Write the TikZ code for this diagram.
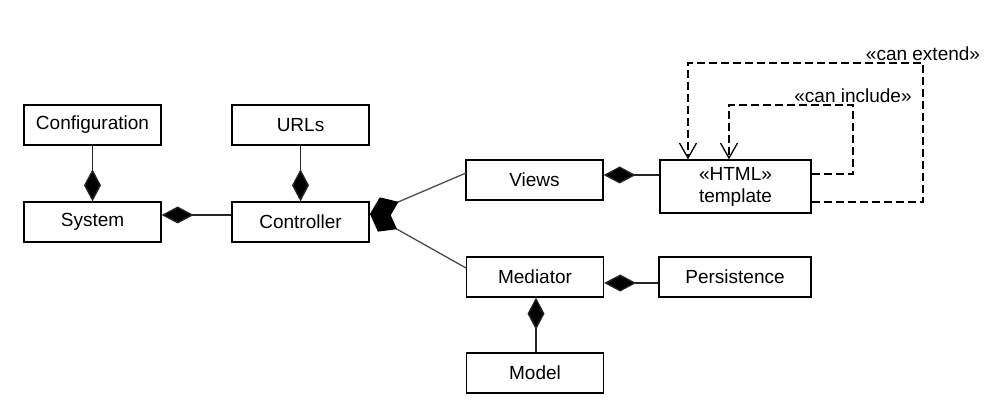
\documentclass[tikz,border=0pt]{standalone}
\usepackage{fontspec}
\setmainfont{Liberation Sans}
\usetikzlibrary{arrows.meta}
\begin{document}
\begin{tikzpicture}[x=1pt,y=-1pt,
  cls/.style={draw=black, line width=1.3pt, minimum height=40pt, inner sep=0pt,
    font=\fontsize{19}{22}\selectfont},
  comp/.style={draw=black!85, line width=1.3pt, -{Diamond[length=32pt,width=17pt,fill=black]}},
  bigcomp/.style={draw=black!70, line width=1.3pt, -{Diamond[length=31pt,width=23pt,fill=black,color=black]}},
  dep/.style={draw=black, line width=1.3pt, dash pattern=on 8pt off 4pt,
    -{Straight Barb[length=15pt,width=17pt]}},
  lbl/.style={font=\fontsize{19}{22}\selectfont, inner sep=0pt}]
\useasboundingbox (0,0) rectangle (1008,419);
\node[cls, minimum width=137pt] (config) at (92.5,125) {Configuration};
\node[cls, minimum width=137pt] (system) at (92.5,222) {System};
\node[cls, minimum width=137pt] (urls) at (300.5,125) {URLs};
\node[cls, minimum width=137pt] (ctrl) at (300.5,222) {Controller};
\node[cls, minimum width=137pt] (views) at (534.5,180) {Views};
\node[cls, minimum width=137pt] (med) at (535,277) {Mediator};
\node[cls, minimum width=137pt] (model) at (535,373) {Model};
\node[cls, minimum width=151pt, minimum height=53pt, align=center] (tmpl) at (735.5,186.5) {«HTML»\\template};
\node[cls, minimum width=152pt] (pers) at (735,277) {Persistence};
% anchor coordinates
\coordinate (ctip) at (370,214);
\coordinate (vl) at (466,173);
\coordinate (ml) at (466,268);
% compositions
\draw[comp] (config.south) -- (system.north);
\draw[comp] (urls.south) -- (ctrl.north);
\draw[comp] (ctrl.west |- 0,215) -- (system.east |- 0,215);
\draw[bigcomp] (vl) -- (ctip);
\draw[bigcomp] (ml) -- (ctip);
\draw[comp] (tmpl.west |- 0,175) -- (views.east |- 0,175);
\draw[comp] (pers.west |- 0,283) -- (med.east |- 0,283);
\draw[comp] (model.north -| 536,0) -- (med.south -| 536,0);
% dependencies
\draw[dep] (tmpl.east |- 0,174) -- (853,174) -- (853,105) coordinate (inc) -- (729,105) -- (tmpl.north -| 729,0);
\draw[dep] (tmpl.east |- 0,202) -- (923,202) -- (923,63) coordinate (ext) -- (688,63) -- (tmpl.north -| 688,0);
\node[lbl, anchor=south] (incl) at ([yshift=2.5pt]inc) {«can include»};
\node[lbl, anchor=south] (extl) at ([yshift=2.5pt]ext) {«can extend»};
\end{tikzpicture}
\end{document}
